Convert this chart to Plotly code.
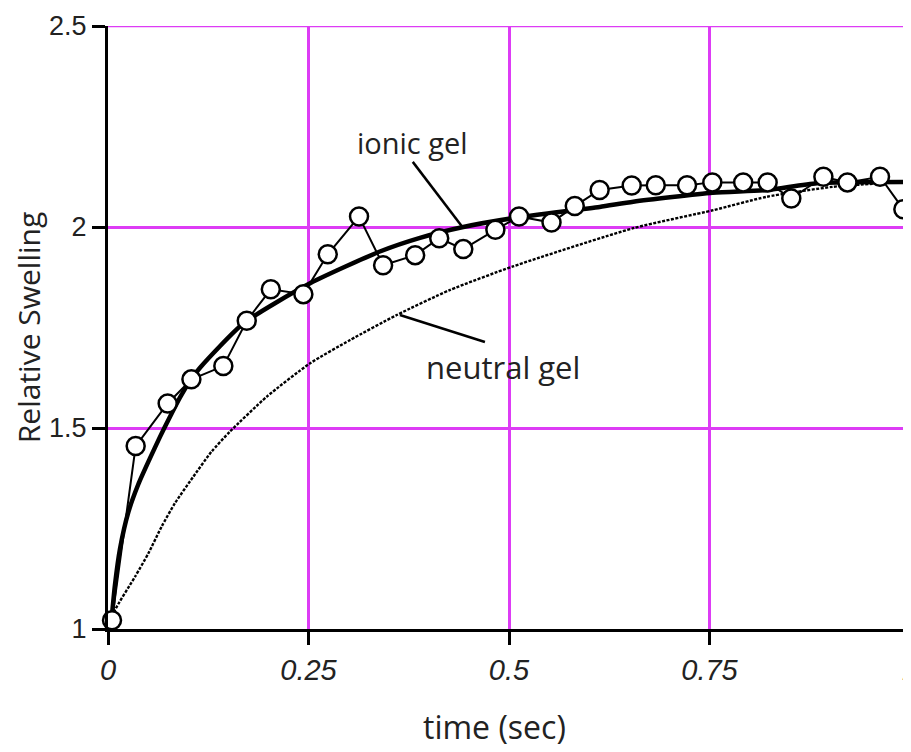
import plotly.graph_objects as go

# ionic gel measured data
ionic_t = [0.005, 0.0345, 0.0744, 0.104, 0.1438, 0.173, 0.203, 0.2436, 0.274, 0.313,
           0.343, 0.383, 0.413, 0.443, 0.483, 0.5125, 0.553, 0.582, 0.613, 0.653,
           0.683, 0.722, 0.7535, 0.792, 0.8225, 0.852, 0.892, 0.922, 0.9626, 0.9917]
ionic_y = [1.022, 1.455, 1.561, 1.621, 1.654, 1.767, 1.845, 1.833, 1.932, 2.026,
           1.905, 1.930, 1.972, 1.945, 1.993, 2.026, 2.011, 2.052, 2.092, 2.103,
           2.104, 2.104, 2.111, 2.111, 2.111, 2.071, 2.125, 2.111, 2.125, 2.044]

# ionic gel fitted curve
fit_t = [0.0046, 0.0087, 0.015, 0.0253, 0.0378, 0.0524, 0.0648, 0.0773, 0.0898, 0.1022,
         0.1147, 0.1687, 0.252, 0.339, 0.389, 0.443, 0.505, 0.613, 0.655, 0.754,
         0.822, 0.884, 1.0]
fit_y = [1.027, 1.11, 1.20, 1.29, 1.36, 1.425, 1.478, 1.528, 1.576, 1.617,
         1.65, 1.760, 1.860, 1.939, 1.973, 2.0, 2.022, 2.05, 2.063, 2.085,
         2.092, 2.109, 2.112]

# neutral gel curve
neu_t = [0.005, 0.0087, 0.0337, 0.0503, 0.0669, 0.0835, 0.1064, 0.129, 0.152, 0.198,
         0.252, 0.302, 0.36, 0.426, 0.505, 0.655, 0.755, 0.821, 0.904, 1.0]
neu_y = [1.02, 1.047, 1.130, 1.188, 1.255, 1.313, 1.379, 1.441, 1.491, 1.578,
         1.661, 1.719, 1.781, 1.843, 1.902, 1.997, 2.042, 2.075, 2.1, 2.113]

x_ticks = [0, 0.25, 0.5, 0.75, 1]
x_tick_text = ["0", "0.25", "0.5", "0.75", "1"]
y_ticks = [1, 1.5, 2, 2.5]
y_tick_text = ["1", "1.5", "2", "2.5"]

grid_col = "#dd3cf5"
tick_fam = "Liberation Sans"
text_fam = "Open Sans"
text_col = "#222"

fig = go.Figure()
fig.add_trace(go.Scatter(x=neu_t, y=neu_y, mode="lines",
                         line=dict(color="black", width=2.4, dash="3px,1.5px", shape="spline",
                                   smoothing=0.6),
                         showlegend=False))
fig.add_trace(go.Scatter(x=fit_t, y=fit_y, mode="lines",
                         line=dict(color="black", width=4.5, shape="spline",
                                   smoothing=0.6),
                         showlegend=False))
fig.add_trace(go.Scatter(x=ionic_t, y=ionic_y, mode="lines+markers",
                         line=dict(color="black", width=2),
                         marker=dict(symbol="circle", size=18, color="white",
                                     line=dict(color="black", width=2.5)),
                         cliponaxis=False, showlegend=False))

fig.add_annotation(x=0.38, y=2.209, xref="x", yref="y", text="ionic gel",
                   showarrow=False,
                   font=dict(family=text_fam, size=29, color=text_col))
fig.add_shape(type="line", x0=0.38, y0=2.162, x1=0.4426, y1=1.998,
              line=dict(color="black", width=2.5))
fig.add_annotation(x=0.493, y=1.652, xref="x", yref="y", text="neutral gel",
                   showarrow=False,
                   font=dict(family=text_fam, size=31, color=text_col))
fig.add_shape(type="line", x0=0.364, y0=1.781, x1=0.47, y1=1.714,
              line=dict(color="black", width=2.5))

# x-axis title placed below the tick labels
fig.add_annotation(x=0.4825, y=-0.162, xref="paper", yref="paper", text="time (sec)",
                   showarrow=False, xanchor="center", yanchor="middle",
                   font=dict(family=text_fam, size=32, color=text_col))

# top grid line at the upper edge of the plot
fig.add_shape(type="line", xref="paper", yref="y", x0=0, x1=1,
              y0=y_ticks[-1], y1=y_ticks[-1], layer="below",
              line=dict(color=grid_col, width=2.5))

# page body adds an 8px offset, so the figure is sized to fit the window
fig.update_layout(
    width=903, height=744,
    margin=dict(l=100, r=1, t=18, b=123),
    paper_bgcolor="white", plot_bgcolor="white",
    xaxis=dict(range=[0, 1], tickvals=x_ticks, ticktext=x_tick_text,
               automargin=False, ticklabeloverflow="allow",
               showgrid=True, gridcolor=grid_col, gridwidth=2.5,
               showline=True, linecolor="black", linewidth=3,
               ticks="outside", ticklen=13, tickwidth=3, tickcolor="black",
               zeroline=False,
               tickfont=dict(family=tick_fam, size=29, color=text_col, style="italic")),
    yaxis=dict(range=[1, 2.5], tickvals=y_ticks, ticktext=y_tick_text,
               automargin=False, ticklabeloverflow="allow",
               showgrid=True, gridcolor=grid_col, gridwidth=2.5,
               showline=True, linecolor="black", linewidth=3,
               ticks="outside", ticklen=13, tickwidth=3, tickcolor="black",
               zeroline=False,
               tickfont=dict(family=tick_fam, size=27, color=text_col),
               title=dict(text="Relative Swelling", standoff=10,
                          font=dict(family=text_fam, size=30, color=text_col))),
)

fig.write_html("out.html")
